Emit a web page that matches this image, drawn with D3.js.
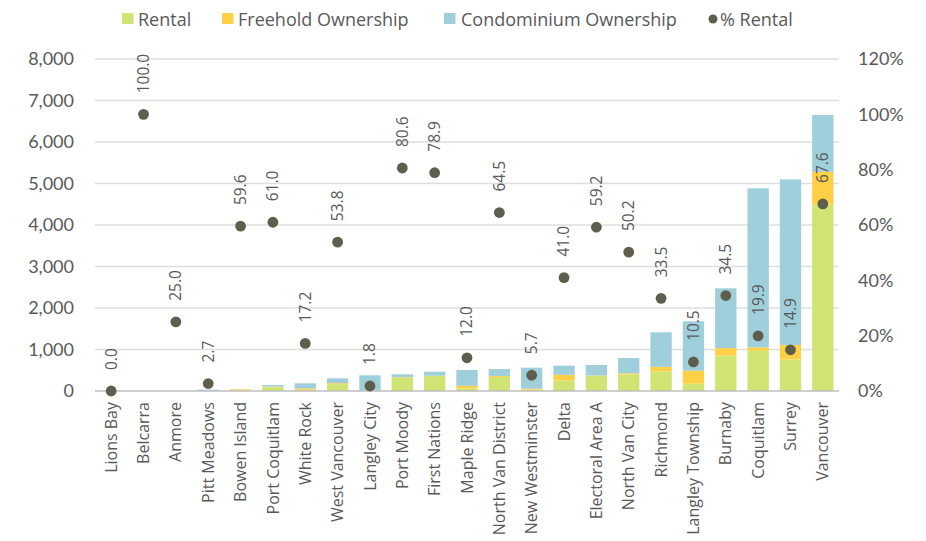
<!DOCTYPE html>
<html>
<head>
<meta charset="utf-8">
<script src="https://cdn.jsdelivr.net/npm/d3@7"></script>
<style>
  html, body { margin: 0; padding: 0; background: #fff; }
  svg { display: block; }
  text { fill: #595959; }
</style>
</head>
<body>
<svg id="chart" width="926" height="541"></svg>
<script>
const CATEGORIES = ["Lions Bay","Belcarra","Anmore","Pitt Meadows","Bowen Island","Port Coquitlam","White Rock","West Vancouver","Langley City","Port Moody","First Nations","Maple Ridge","North Van District","New Westminster","Delta","Electoral Area A","North Van City","Richmond","Langley Township","Burnaby","Coquitlam","Surrey","Vancouver"];
const rental    = [0, 0, 0, 1, 12, 90, 32, 164, 7, 324, 368, 61, 342, 32, 250, 371, 399, 474, 176, 854, 972, 760, 4496];
const freehold  = [0, 0, 0, 2, 28, 15, 30, 25, 3, 10, 0, 65, 20, 25, 140, 5, 28, 110, 315, 180, 80, 350, 787];
const condo     = [0, 0, 0, 30, 0, 40, 123, 116, 368, 68, 98, 380, 168, 505, 220, 250, 368, 830, 1188, 1440, 3832, 3990, 1368];
const pctRental = [0.0, 100.0, 25.0, 2.7, 59.6, 61.0, 17.2, 53.8, 1.8, 80.6, 78.9, 12.0, 64.5, 5.7, 41.0, 59.2, 50.2, 33.5, 10.5, 34.5, 19.9, 14.9, 67.6];
const leftTicks  = [0, 1000, 2000, 3000, 4000, 5000, 6000, 7000, 8000];
const rightTicks = [0, 0.2, 0.4, 0.6, 0.8, 1.0, 1.2];
const seriesNames = ["Rental", "Freehold Ownership", "Condominium Ownership"];
const lineName = "% Rental";

const colors = ["#cfe472", "#ffcf46", "#9fcfdb"];
const dotColor = "#5f5e4c";

const svg = d3.select("#chart");
const L = 95, R = 839, T = 59, B = 391;

const x = d3.scaleBand().domain(CATEGORIES).range([L, R]).paddingInner(0.34).paddingOuter(0.17);
const y = d3.scaleLinear().domain([0, 8000]).range([B, T]);
const y2 = d3.scaleLinear().domain([0, 1.2]).range([B, T]);

// grid
svg.append("g").selectAll("line").data(leftTicks.filter(d => d > 0)).join("line")
  .attr("x1", L).attr("x2", R)
  .attr("y1", d => y(d)).attr("y2", d => y(d))
  .attr("stroke", "#dedede").attr("stroke-width", 1.4);

// stacked data
const rows = CATEGORIES.map((c, i) => ({cat: c, Rental: rental[i], "Freehold Ownership": freehold[i], "Condominium Ownership": condo[i]}));
const stack = d3.stack().keys(seriesNames)(rows);

svg.append("g").selectAll("g").data(stack).join("g")
  .attr("fill", (d, i) => colors[i])
  .selectAll("rect").data(d => d).join("rect")
  .attr("x", d => x(d.data.cat))
  .attr("width", x.bandwidth())
  .attr("y", d => y(d[1]))
  .attr("height", d => Math.max(0, y(d[0]) - y(d[1])));

// baseline
svg.append("line").attr("x1", L).attr("x2", R).attr("y1", B).attr("y2", B)
  .attr("stroke", "#bfbfbf").attr("stroke-width", 1.5);

// left axis
const axL = svg.append("g").attr("transform", `translate(${L},0)`)
  .call(d3.axisLeft(y).tickValues(leftTicks).tickFormat(d3.format(",")).tickSize(0).tickPadding(21));
axL.select(".domain").remove();
axL.selectAll("text").attr("font-family", "Lato, sans-serif").attr("font-size", 18).attr("fill", "#595959");

// right axis
const axR = svg.append("g").attr("transform", `translate(${R},0)`)
  .call(d3.axisRight(y2).tickValues(rightTicks).tickFormat(d3.format(".0%")).tickSize(0).tickPadding(19));
axR.select(".domain").remove();
axR.selectAll("text").attr("font-family", "Lato, sans-serif").attr("font-size", 18).attr("fill", "#595959");

// x axis labels
const axB = svg.append("g").attr("transform", `translate(0,${B})`)
  .call(d3.axisBottom(x).tickSize(0).tickPadding(0));
axB.select(".domain").remove();
axB.selectAll("text")
  .attr("font-family", "'Open Sans', sans-serif").attr("font-size", 16).attr("fill", "#595959")
  .attr("transform", "rotate(-90)")
  .attr("text-anchor", "end")
  .attr("x", -11).attr("y", 0).attr("dy", "0.35em");

// dots
const cx = c => x(c) + x.bandwidth() / 2;
svg.append("g").selectAll("circle").data(CATEGORIES).join("circle")
  .attr("cx", c => cx(c))
  .attr("cy", (c, i) => y2(pctRental[i] / 100))
  .attr("r", 5.4).attr("fill", dotColor);

// data labels
svg.append("g").selectAll("text").data(CATEGORIES).join("text")
  .attr("transform", (c, i) => `translate(${cx(c)},${y2(pctRental[i] / 100) - 21}) rotate(-90)`)
  .attr("text-anchor", "start").attr("dy", "0.35em")
  .attr("font-family", "'Open Sans', sans-serif").attr("font-size", 15.5).attr("fill", "#404040")
  .text((c, i) => pctRental[i].toFixed(1));

// legend
const leg = svg.append("g").attr("font-family", "'Open Sans', sans-serif").attr("font-size", 18);
const legItems = [
  {name: seriesNames[0], sx: 122, tx: 138, type: "rect", color: colors[0]},
  {name: seriesNames[1], sx: 222, tx: 238, type: "rect", color: colors[1]},
  {name: seriesNames[2], sx: 444, tx: 461, type: "rect", color: colors[2]},
  {name: lineName, sx: 713, tx: 720, type: "dot", color: dotColor}
];
legItems.forEach(it => {
  if (it.type === "rect") {
    leg.append("rect").attr("x", it.sx).attr("y", 13).attr("width", 11.5).attr("height", 11).attr("fill", it.color);
  } else {
    leg.append("circle").attr("cx", it.sx).attr("cy", 19).attr("r", 4.5).attr("fill", it.color);
  }
  leg.append("text").attr("x", it.tx).attr("y", 25.5).attr("fill", "#595959").text(it.name);
});
</script>
</body>
</html>
